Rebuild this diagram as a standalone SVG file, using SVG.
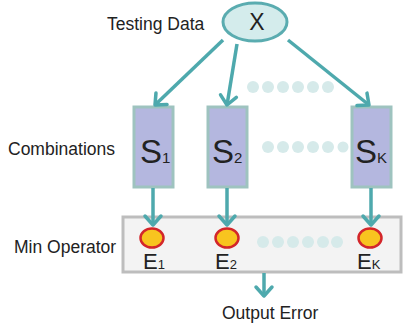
<svg xmlns="http://www.w3.org/2000/svg" width="403" height="328" viewBox="0 0 403 328">
<defs>
<style>
.t{font-family:"Liberation Sans",Arial,sans-serif;fill:#222;}
.lbl{font-size:17.5px;}
.big{font-size:33px;}
.sub{font-size:15px;}
.eb{font-size:22px;}
.es{font-size:13px;}
.ar{stroke:#4ea9ad;stroke-width:3.5;fill:none;marker-end:url(#ah);}
.box{fill:#b4b7df;stroke:#9ec3bf;stroke-width:3;}
.dot{fill:#d6eaea;}
.ov{fill:#f8c41f;stroke:#d3262a;stroke-width:2.5;}
</style>
<marker id="ah" markerUnits="userSpaceOnUse" markerWidth="24" markerHeight="24" viewBox="-12 -12 24 24" refX="0" refY="0" orient="auto">
<path d="M-9,-8 L0,0 L-9,8" fill="none" stroke="#4ea9ad" stroke-width="3.5" stroke-linecap="round" stroke-linejoin="round"/>
</marker>
</defs>
<g id="minop">
<rect x="123" y="217" width="278" height="55" fill="#f3f3f3" stroke="#bdbdbd" stroke-width="3"/>
</g>
<g id="labels">
<text class="t lbl" x="107" y="30">Testing Data</text>
<text class="t lbl" x="8" y="155">Combinations</text>
<text class="t lbl" x="14" y="253">Min Operator</text>
<text class="t lbl" x="222" y="319">Output Error</text>
</g>
<g id="x">
<ellipse cx="255" cy="22" rx="32" ry="19" fill="#d4ecec" stroke="#5aacb0" stroke-width="3"/>
<text class="t" x="257" y="30" font-size="23" text-anchor="middle">X</text>
</g>
<g id="s1">
<rect class="box" x="134" y="107" width="39" height="80"/>
<text class="t" x="140" y="163"><tspan class="big">S</tspan><tspan class="sub">1</tspan></text>
</g>
<g id="s2">
<rect class="box" x="208" y="107" width="39" height="80"/>
<text class="t" x="212" y="163"><tspan class="big">S</tspan><tspan class="sub">2</tspan></text>
</g>
<g id="sk">
<rect class="box" x="352" y="107" width="39" height="80"/>
<text class="t" x="355" y="163"><tspan class="big">S</tspan><tspan class="sub">K</tspan></text>
</g>
<g id="e1">
<ellipse class="ov" cx="152" cy="238" rx="11.5" ry="9.5"/>
<text class="t" x="143" y="269"><tspan class="eb">E</tspan><tspan class="es">1</tspan></text>
</g>
<g id="e2">
<ellipse class="ov" cx="227" cy="238" rx="11.5" ry="9.5"/>
<text class="t" x="215" y="269"><tspan class="eb">E</tspan><tspan class="es">2</tspan></text>
</g>
<g id="ek">
<ellipse class="ov" cx="370" cy="238" rx="11.5" ry="9.5"/>
<text class="t" x="357" y="269"><tspan class="eb">E</tspan><tspan class="es">K</tspan></text>
</g>
<g id="dots">
<g class="dot">
<circle cx="253" cy="87" r="6"/><circle cx="268" cy="87" r="6"/><circle cx="283" cy="87" r="6"/><circle cx="298" cy="87" r="6"/><circle cx="313" cy="87" r="6"/><circle cx="328" cy="87" r="6"/>
<circle cx="268" cy="147" r="6"/><circle cx="283" cy="147" r="6"/><circle cx="298" cy="147" r="6"/><circle cx="313" cy="147" r="6"/><circle cx="328" cy="147" r="6"/><circle cx="343" cy="147" r="5.5"/>
<circle cx="263" cy="242" r="6"/><circle cx="278" cy="242" r="6"/><circle cx="293" cy="242" r="6"/><circle cx="308" cy="242" r="6"/><circle cx="323" cy="242" r="6"/><circle cx="337" cy="242" r="6"/>
</g>
</g>
<g id="connectors">
<line class="ar" x1="223" y1="40" x2="155" y2="105"/>
<line class="ar" x1="237" y1="44" x2="227" y2="105"/>
<line class="ar" x1="288" y1="40" x2="369" y2="105"/>
<line class="ar" x1="153" y1="188" x2="153" y2="225"/>
<line class="ar" x1="227" y1="188" x2="227" y2="225"/>
<line class="ar" x1="371" y1="188" x2="371" y2="225"/>
<line class="ar" x1="264" y1="273" x2="264" y2="296"/>
</g>
</svg>
